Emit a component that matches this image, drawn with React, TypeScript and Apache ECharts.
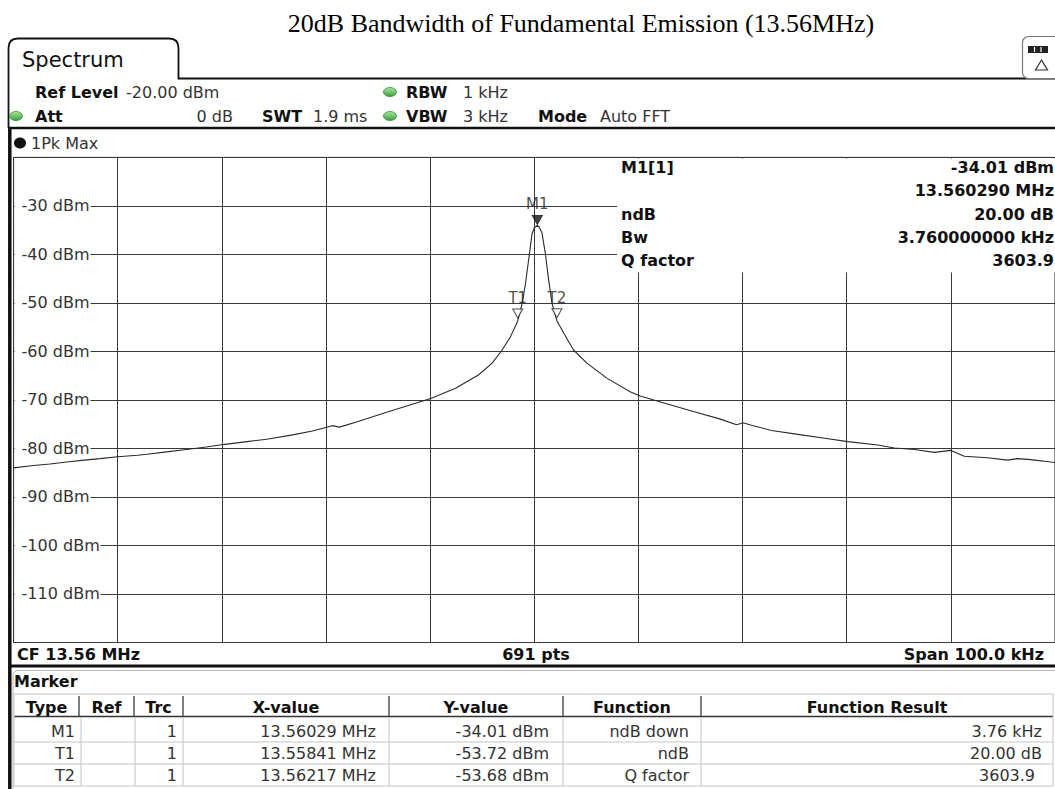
import React, { useEffect, useRef } from "react";
import * as echarts from "echarts";

// ---------- data ----------
const chartTitle = "20dB Bandwidth of Fundamental Emission (13.56MHz)";

// trace: frequency offset from CF 13.56 MHz (kHz) and level (dBm)
const traceOffsetKHz = [
  -50.0, -48.1, -46.5, -44.9, -43.2, -41.7, -40.0, -38.1, -37.2, -35.3, -33.4, -31.5, -29.9,
  -27.6, -25.7, -23.2, -21.3, -19.4, -18.7, -17.0, -13.95, -9.95, -7.56, -5.33, -4.05, -3.09,
  -2.29, -1.59, -1.18, -0.85, -0.47, -0.22, 0.0, 0.29, 0.5, 0.74, 1.06, 1.38, 1.7, 2.17, 2.82,
  3.77, 5.05, 6.96, 9.2, 10.16, 12.71, 15.27, 17.8, 19.42, 20.06, 20.85, 22.77, 25.33, 27.88,
  30.11, 32.99, 34.59, 36.5, 38.42, 40.01, 41.29, 43.52, 45.44, 46.4, 47.67, 49.58, 50.0,
];
const traceLevelDbm = [
  -84.0, -83.5, -83.2, -82.8, -82.4, -82.1, -81.7, -81.4, -81.2, -80.7, -80.2, -79.7, -79.2,
  -78.6, -78.1, -77.2, -76.4, -75.3, -75.6, -74.5, -72.4, -69.7, -67.6, -64.8, -62.4, -59.7,
  -57.0, -53.72, -50.2, -46.1, -39.9, -35.8, -34.5, -34.01, -34.5, -35.6, -39.8, -45.3, -50.1,
  -53.68, -56.2, -59.7, -62.4, -65.5, -68.3, -69.2, -70.8, -72.4, -73.9, -75.1, -74.7, -75.2,
  -76.3, -77.1, -77.9, -78.6, -79.3, -79.9, -80.2, -80.8, -80.4, -81.6, -81.9, -82.4, -82.1,
  -82.3, -82.8, -82.9,
];

const yTickValues = [-30, -40, -50, -60, -70, -80, -90, -100, -110];
const yTickLabels = ["-30 dBm", "-40 dBm", "-50 dBm", "-60 dBm", "-70 dBm", "-80 dBm", "-90 dBm", "-100 dBm", "-110 dBm"];

const markerNames = ["M1", "T1", "T2"];
const markerOffsetKHz = [0.29, -1.59, 2.17];
const markerLevelDbm = [-34.01, -53.72, -53.68];
const markerTrc = ["1", "1", "1"];
const markerXValues = ["13.56029 MHz", "13.55841 MHz", "13.56217 MHz"];
const markerYValues = ["-34.01 dBm", "-53.72 dBm", "-53.68 dBm"];
const markerFunctions = ["ndB down", "ndB", "Q factor"];
const markerResults = ["3.76 kHz", "20.00 dB", "3603.9"];
const tableHeaders = ["Type", "Ref", "Trc", "X-value", "Y-value", "Function", "Function Result"];

const infoLabels = ["M1[1]", "", "ndB", "Bw", "Q factor"];
const infoValues = ["-34.01 dBm", "13.560290 MHz", "20.00 dB", "3.760000000 kHz", "3603.9"];

const headerRow1 = { refLevel: "-20.00 dBm", rbw: "1 kHz" };
const headerRow2 = { att: "0 dB", swt: "1.9 ms", vbw: "3 kHz", mode: "Auto FFT" };
const traceName = "1Pk Max";
const footer = { cf: "CF 13.56 MHz", pts: "691 pts", span: "Span 100.0 kHz" };

// ---------- helpers ----------
const FONT = '"DejaVu Sans"';

let tabRegistered = false;
function registerTab() {
  if (tabRegistered) return;
  tabRegistered = true;
  echarts.graphic.registerShape(
    "specTab",
    echarts.graphic.extendPath(
      "M8.5 128 L8.5 48 Q8.5 38.5 18 38.5 L169 38.5 Q178.5 38.5 178.5 48 L178.5 78.5 L1062 78.5",
      {}
    ) as any
  );
}

function buildGraphic() {
  const g: any[] = [];
  const txt = (text: string, x: number, y: number, o: any = {}) =>
    g.push({
      type: "text",
      z: o.z ?? 6,
      silent: true,
      style: {
        text,
        x,
        y,
        font: `${o.weight || "normal"} ${o.size || 16}px ${o.family || FONT}`,
        fill: o.color || "#111",
        textAlign: o.align || "left",
        verticalAlign: "middle",
      },
    });
  const line = (x1: number, y1: number, x2: number, y2: number, color: string, width: number, z = 5) =>
    g.push({ type: "line", z, silent: true, shape: { x1, y1, x2, y2 }, style: { stroke: color, lineWidth: width } });
  const greenDot = (cx: number, cy: number) =>
    g.push({
      type: "ellipse",
      z: 6,
      silent: true,
      shape: { cx, cy, rx: 6.5, ry: 4.5 },
      style: {
        fill: new echarts.graphic.LinearGradient(0, 0, 0, 1, [
          { offset: 0, color: "#a8e6a0" },
          { offset: 1, color: "#3f9f3f" },
        ]),
        stroke: "#3a8a3a",
        lineWidth: 0.8,
      },
    });

  // title
  txt(chartTitle, 581, 23, { size: 26, family: '"Liberation Serif"', align: "center", color: "#000" });

  // tab + header frame
  g.push({
    type: "specTab",
    z: 5,
    silent: true,
    x: 0,
    y: 0,
    style: { fill: "none", stroke: "#111", lineWidth: 1.8 },
  });
  txt("Spectrum", 22, 60, { size: 21 });
  line(9, 128, 1062, 128, "#111", 2.5);
  line(9.8, 127, 9.8, 789, "#111", 3.5);

  // top right icon
  g.push({
    type: "rect",
    z: 5,
    silent: true,
    shape: { x: 1022.5, y: 36.5, width: 40, height: 42, r: 6 },
    style: { fill: "#fff", stroke: "#777", lineWidth: 1.2 },
  });
  g.push({ type: "rect", z: 6, silent: true, shape: { x: 1028, y: 46, width: 20, height: 7 }, style: { fill: "#222" } });
  line(1034.5, 47, 1034.5, 52, "#fff", 1.2, 7);
  line(1041, 47, 1041, 52, "#fff", 1.2, 7);
  g.push({
    type: "polygon",
    z: 6,
    silent: true,
    shape: { points: [[1041.5, 60], [1035.5, 70], [1047.5, 70]] },
    style: { fill: "none", stroke: "#333", lineWidth: 1.2 },
  });

  // header
  txt("Ref Level", 35, 92, { weight: "bold" });
  txt(headerRow1.refLevel, 126, 92, { color: "#333" });
  greenDot(16, 116);
  txt("Att", 35, 116, { weight: "bold" });
  txt(headerRow2.att, 233, 116, { color: "#333", align: "right" });
  txt("SWT", 262, 116, { weight: "bold" });
  txt(headerRow2.swt, 313, 116, { color: "#333" });
  greenDot(390, 92);
  greenDot(390, 116);
  txt("RBW", 406, 92, { weight: "bold" });
  txt(headerRow1.rbw, 463, 92, { color: "#333" });
  txt("VBW", 406, 116, { weight: "bold" });
  txt(headerRow2.vbw, 463, 116, { color: "#333" });
  txt("Mode", 538, 116, { weight: "bold" });
  txt(headerRow2.mode, 600, 116, { color: "#333" });

  // trace label row
  g.push({ type: "ellipse", z: 6, silent: true, shape: { cx: 20, cy: 143, rx: 6, ry: 5.5 }, style: { fill: "#111" } });
  txt(traceName, 31, 143, { color: "#333" });

  // marker info box inside plot
  g.push({ type: "rect", z: 1, silent: true, shape: { x: 617, y: 158.5, width: 450, height: 114 }, style: { fill: "#fff" } });
  const infoY = [167, 190, 214, 237, 260];
  infoLabels.forEach((t, i) => t && txt(t, 621, infoY[i], { weight: "bold" }));
  infoValues.forEach((t, i) => txt(t, 1054, infoY[i], { weight: "bold", align: "right" }));

  // footer row
  txt(footer.cf, 17, 654, { weight: "bold" });
  txt(footer.pts, 536, 654, { weight: "bold", align: "center" });
  txt(footer.span, 1044, 654, { weight: "bold", align: "right" });
  line(9, 666, 1062, 666, "#111", 3);

  // marker panel
  g.push({
    type: "rect",
    z: 4,
    silent: true,
    shape: { x: 13, y: 670.5, width: 1050, height: 130, r: 5 },
    style: { fill: "none", stroke: "#b5b5b5", lineWidth: 1 },
  });
  txt("Marker", 14, 681, { weight: "bold" });

  const colX = [14, 79, 134, 183, 389, 563, 701, 1053];
  const rowX = [14, 81, 135, 183, 389, 563, 701, 1053];
  const light = "#c4c4c4";
  line(14, 694, 1053, 694, light, 1);
  line(14, 716.5, 1053, 716.5, "#333", 1.5);
  line(14, 742, 1053, 742, light, 1);
  line(14, 764, 1053, 764, light, 1);
  line(14, 786, 1053, 786, light, 1);
  line(14, 694, 14, 786, light, 1);
  line(1053, 694, 1053, 786, light, 1);
  for (let i = 1; i < colX.length - 1; i++) line(colX[i], 696, colX[i], 716, "#555", 1.5);
  for (let i = 1; i < rowX.length - 1; i++) line(rowX[i], 717, rowX[i], 786, light, 1);
  tableHeaders.forEach((h, i) => txt(h, (colX[i] + colX[i + 1]) / 2, 707, { weight: "bold", align: "center" }));
  const rowY = [731, 753, 775];
  markerNames.forEach((m, r) => {
    const y = rowY[r];
    txt(m, 75, y, { align: "right", color: "#333" });
    txt(markerTrc[r], 177, y, { align: "right", color: "#333" });
    txt(markerXValues[r], 376, y, { align: "right", color: "#333" });
    txt(markerYValues[r], 549, y, { align: "right", color: "#333" });
    txt(markerFunctions[r], 689, y, { align: "right", color: "#333" });
    txt(markerResults[r], r === 2 ? 1035 : 1042, y, { align: "right", color: "#333" });
  });

  return g;
}

export default function App() {
  const ref = useRef<HTMLDivElement>(null);
  useEffect(() => {
    if (!ref.current) return;
    registerTab();
    const chart = echarts.init(ref.current, null, { renderer: "svg" });
    const trace = traceOffsetKHz.map((f, i) => [f, traceLevelDbm[i]]);
    const triDown = "path://M0 0L10 0L5 9Z";
    const markers = markerNames.map((n, i) => ({
      name: n,
      value: [markerOffsetKHz[i], markerLevelDbm[i]],
      symbolOffset: i === 0 ? [0, -5.5] : [0, -7.5],
      itemStyle: i === 0 ? { color: "#111", borderColor: "#111", borderWidth: 1 } : { color: "#fff", borderColor: "#222", borderWidth: 1 },
    }));
    chart.setOption({
      animation: false,
      textStyle: { fontFamily: "DejaVu Sans" },
      grid: { left: 13.6, top: 157.4, right: -2.4, bottom: 146.5, show: true, borderColor: "#222", borderWidth: 1, containLabel: false },
      xAxis: {
        type: "value",
        min: -50,
        max: 50,
        interval: 10,
        axisLine: { show: false },
        axisTick: { show: false },
        axisLabel: { show: false },
        splitLine: { show: true, lineStyle: { color: "#3a3a3a", width: 1 } },
      },
      yAxis: {
        type: "value",
        min: -120,
        max: -20,
        interval: 10,
        axisLine: { show: false },
        axisTick: { show: false },
        splitLine: { show: true, lineStyle: { color: "#3a3a3a", width: 1 } },
        axisLabel: {
          inside: true,
          margin: 1,
          showMinLabel: false,
          showMaxLabel: false,
          fontSize: 16,
          fontFamily: "DejaVu Sans",
          color: "#333",
          backgroundColor: "#fff",
          padding: [3, 1, 3, 7],
          formatter: (v: number) => {
            const i = yTickValues.indexOf(Math.round(v));
            return i >= 0 ? yTickLabels[i] : "";
          },
        },
      },
      series: [
        {
          type: "line",
          data: trace,
          showSymbol: false,
          symbol: "none",
          lineStyle: { color: "#2a2a2a", width: 1.1 },
          z: 3,
        },
        {
          type: "scatter",
          data: markers,
          symbol: triDown,
          symbolSize: [10, 9],
          z: 4,
          label: {
            show: true,
            position: "top",
            distance: 3,
            formatter: (p: any) => p.name,
            fontSize: 15,
            fontFamily: "DejaVu Sans",
            color: "#222",
          },
        },
      ],
      graphic: buildGraphic(),
    });
    return () => chart.dispose();
  }, []);
  return <div ref={ref} style={{ position: "absolute", left: 0, top: 0, width: 1055, height: 789, background: "#fff" }} />;
}
